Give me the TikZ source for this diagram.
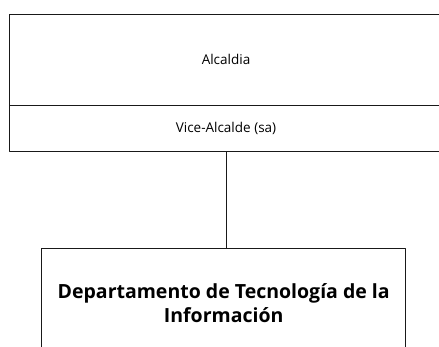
\documentclass[tikz,border=0pt]{standalone}
\usepackage{fontspec}
\setmainfont{Open Sans}
\usetikzlibrary{calc}
\definecolor{qqqqqq}{rgb}{0.1,0.1,0.1}
\tikzset{
  unitbox/.style={draw=qqqqqq,line width=0.8pt,rectangle,inner sep=0pt,align=center,font=\fontsize{13.5}{16}\selectfont},
  deptbox/.style={unitbox,font=\fontsize{19.5}{24}\selectfont\bfseries}
}
\begin{document}
\begin{tikzpicture}[line cap=round,line join=round,x=1pt,y=1pt]
\useasboundingbox (0,0) rectangle (439,347);
\clip (0,0) rectangle (439,347);
\node[unitbox,minimum width=434pt,minimum height=91pt] (alcaldia) at (226,287.5) {Alcaldia};
\node[unitbox,minimum width=434pt,minimum height=46pt,anchor=north] (vice) at (alcaldia.south) {Vice-Alcalde (sa)};
\node[deptbox,minimum width=364pt,minimum height=110pt] (dept) at (223.7,44) {Departamento de Tecnología de la\\Información};
\draw [line width=0.8pt,color=qqqqqq] (vice.south) -- (vice.south |- dept.north);
\end{tikzpicture}
\end{document}
